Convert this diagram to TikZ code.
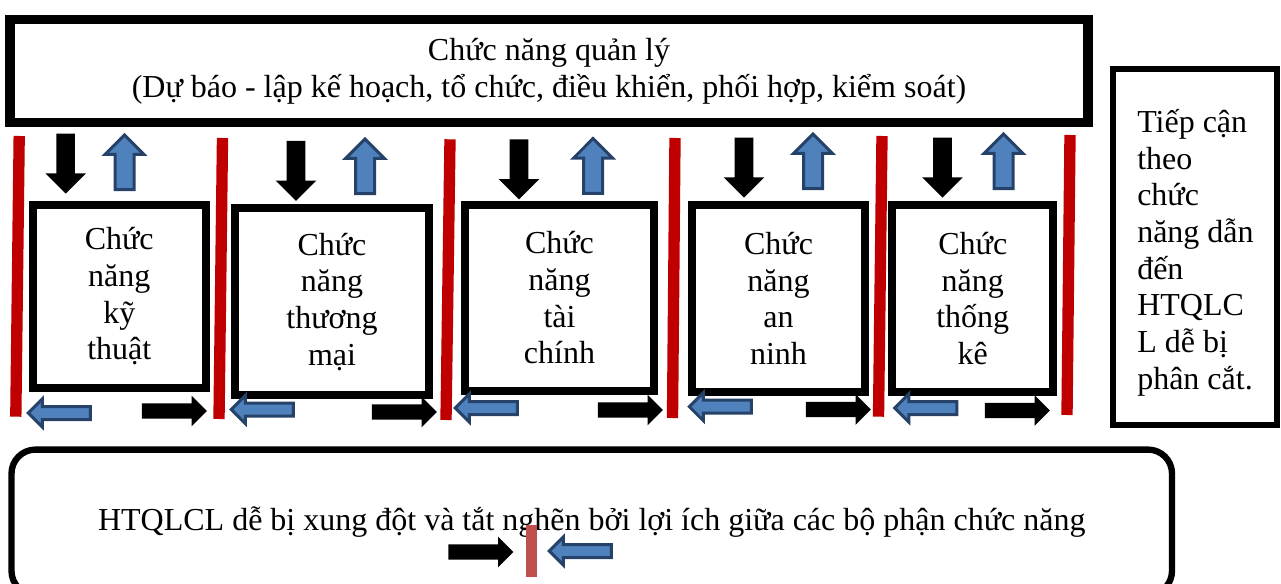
\documentclass[tikz,border=0pt]{standalone}
\usepackage{fontspec}
\setmainfont{Liberation Serif}
\usetikzlibrary{shapes.arrows}
\definecolor{barred}{RGB}{192,0,0}
\definecolor{midred}{RGB}{192,80,77}
\definecolor{arrfill}{RGB}{79,129,189}
\definecolor{arrline}{RGB}{38,66,104}
\begin{document}
\begin{tikzpicture}[x=0.75pt,y=-0.75pt,
    font=\fontsize{24}{27.5}\selectfont,
    fnbox/.style={draw,line width=6pt,align=center,inner sep=0pt},
    redbar/.style={barred,line width=8.5pt},
    dnarrow/.style={single arrow,fill=black,inner sep=6.75pt,minimum height=45pt,yshift=3pt,
      minimum width=30pt,single arrow head extend=8.25pt,shape border rotate=270},
    uparrow/.style={single arrow,fill=arrfill,draw=arrline,line width=2.25pt,inner sep=6pt,yshift=-3pt,
      minimum height=41pt,minimum width=27pt,single arrow head extend=7.5pt,shape border rotate=90},
    rtarrow/.style={single arrow,fill=black,inner sep=5.6pt,minimum height=48.75pt,xshift=-2.6pt,
      minimum width=22.5pt,single arrow head extend=5.65pt},
    ltarrow/.style={single arrow,fill=arrfill,draw=arrline,line width=2.25pt,inner sep=3.75pt,xshift=2.3pt,
      minimum height=46.5pt,minimum width=18.75pt,single arrow head extend=5.6pt,shape border rotate=180}]
  \useasboundingbox (0,0) rectangle (1281,584);

  \node (top) [draw,line width=7pt,minimum width=808.5pt,minimum height=76.9pt,align=center]
    at (549,71) {Chức năng quản lý\\(Dự báo - lập kế hoạch, tổ chức, điều khiển, phối hợp, kiểm soát)};
  \node (rbox) [draw,line width=4.5pt,minimum width=123pt,minimum height=267pt] at (1195,246.7) {};
  \node (rtext) [anchor=north west,align=left,inner sep=0pt] at (1137,109)
    {Tiếp cận\\theo\\chức\\năng dẫn\\đến\\HTQLC\\L dễ bị\\phân cắt.};
  \node (bot) [draw,line width=4.75pt,rounded corners=18pt,minimum width=870.4pt,minimum height=109pt]
    at (591.75,522.25) {HTQLCL dễ bị xung đột và tắt nghẽn bởi lợi ích giữa các bộ phận chức năng};

  \node (f1) [fnbox,minimum width=130.1pt,minimum height=136.9pt] at (119.25,296.25) {Chức\\năng\\kỹ\\thuật};
  \node (f2) [fnbox,minimum width=145.5pt,minimum height=139.9pt] at (332,301.75) {Chức\\năng\\thương\\mại};
  \node (f3) [fnbox,minimum width=141.75pt,minimum height=139.5pt] at (559.5,298) {Chức\\năng\\tài\\chính};
  \node (f4) [fnbox,minimum width=129.75pt,minimum height=140.25pt] at (778.5,298.5) {Chức\\năng\\an\\ninh};
  \node (f5) [fnbox,minimum width=121.1pt,minimum height=140.25pt] at (972.75,298.5) {Chức\\năng\\thống\\kê};

  \begin{scope}[line cap=butt]
    \draw[redbar] (19.2,136) -- (15.8,416.7);
    \draw[redbar] (222.5,138) -- (219,419);
    \draw[redbar] (450,139.3) -- (446,420);
    \draw[redbar] (675,138) -- (672.5,418);
    \draw[redbar] (882,136) -- (878.5,416.7);
    \draw[redbar] (1070,135) -- (1067,415);
    \draw[midred,line width=8.25pt] (531.5,525) -- (531.5,577);
  \end{scope}

  \node (d1) [dnarrow] at (65.7,163) {};
  \node (d2) [dnarrow] at (296,170.3) {};
  \node (d3) [dnarrow] at (519,168.8) {};
  \node (d4) [dnarrow] at (744,167) {};
  \node (d5) [dnarrow] at (942.5,167) {};

  \node (u1) [uparrow] at (124.5,163) {};
  \node (u2) [uparrow] at (365,167) {};
  \node (u3) [uparrow] at (593,166.7) {};
  \node (u4) [uparrow] at (813,162) {};
  \node (u5) [uparrow] at (1003.5,162) {};

  \node (l1) [ltarrow] at (59.5,413) {};
  \node (l2) [ltarrow] at (262.5,409.5) {};
  \node (l3) [ltarrow] at (486.5,408) {};
  \node (l4) [ltarrow] at (720.5,406.7) {};
  \node (l5) [ltarrow] at (926,408) {};
  \node (l6) [ltarrow] at (580.5,551) {};

  \node (r1) [rtarrow] at (174,411) {};
  \node (r2) [rtarrow] at (404,412) {};
  \node (r3) [rtarrow] at (630,410) {};
  \node (r4) [rtarrow] at (838,409.5) {};
  \node (r5) [rtarrow] at (1017,410.5) {};
  \node (r6) [rtarrow] at (480.5,552) {};
\end{tikzpicture}
\end{document}
